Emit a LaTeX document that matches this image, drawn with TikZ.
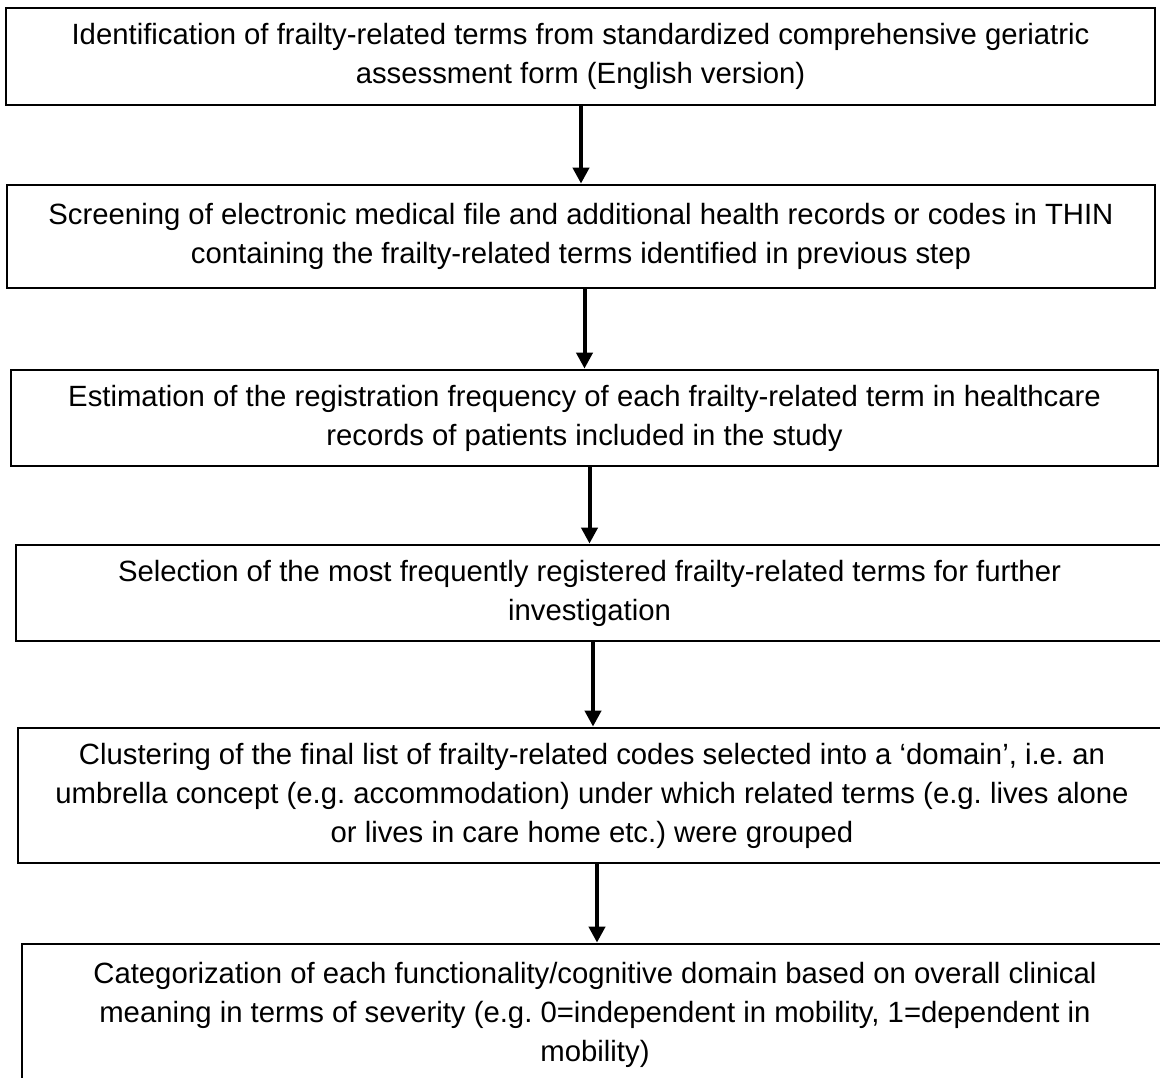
\documentclass[tikz,border=0pt]{standalone}
\usepackage{fontspec}
\setmainfont{Liberation Sans}
\usetikzlibrary{arrows.meta}
\frenchspacing
\tikzset{
  stepbox/.style={draw=black, line width=2.8pt, align=center, inner sep=0pt,
    font=\fontsize{29.3}{39}\selectfont},
  arr/.style={line width=4pt, -{Triangle[length=16pt,width=16pt]}}
}
\begin{document}
\begin{tikzpicture}[x=1pt,y=-1pt]
\useasboundingbox (0,0) rectangle (1160,1077);
\clip (0,0) rectangle (1160,1077);
\node[stepbox, minimum width=1149pt, minimum height=97pt] (b1) at (580.5,56.5)
  {Identification of frailty-related terms from standardized comprehensive geriatric\\assessment form (English version)};
\node[stepbox, minimum width=1148pt, minimum height=103pt] (b2) at (581,236.5)
  {Screening of electronic medical file and additional health records or codes in THIN\\containing the frailty-related terms identified in previous step};
\node[stepbox, minimum width=1147pt, minimum height=96pt] (b3) at (584.5,418)
  {Estimation of the registration frequency of each frailty-related term in healthcare\\records of patients included in the study};
\node[stepbox, minimum width=1147pt, minimum height=96pt] (b4) at (589.5,593)
  {Selection of the most frequently registered frailty-related terms for further\\investigation};
\node[stepbox, minimum width=1148pt, minimum height=135pt] (b5) at (592,795.5)
  {Clustering of the final list of frailty-related codes selected into a ‘domain’, i.e. an\\umbrella concept (e.g. accommodation) under which related terms (e.g. lives alone\\or lives in care home etc.) were grouped};
\node[stepbox, minimum width=1146pt, minimum height=142pt] (b6) at (595,1015)
  {Categorization of each functionality/cognitive domain based on overall clinical\\meaning in terms of severity (e.g. 0=independent in mobility, 1=dependent in\\mobility)};
\draw[arr] (b2.north |- b1.south) -- (b2.north);
\draw[arr] (b3.north |- b2.south) -- (b3.north);
\draw[arr] (b4.north |- b3.south) -- (b4.north);
\draw[arr] ([xshift=1pt]b5.north |- b4.south) -- ([xshift=1pt]b5.north);
\draw[arr] ([xshift=2pt]b6.north |- b5.south) -- ([xshift=2pt]b6.north);
\end{tikzpicture}
\end{document}
